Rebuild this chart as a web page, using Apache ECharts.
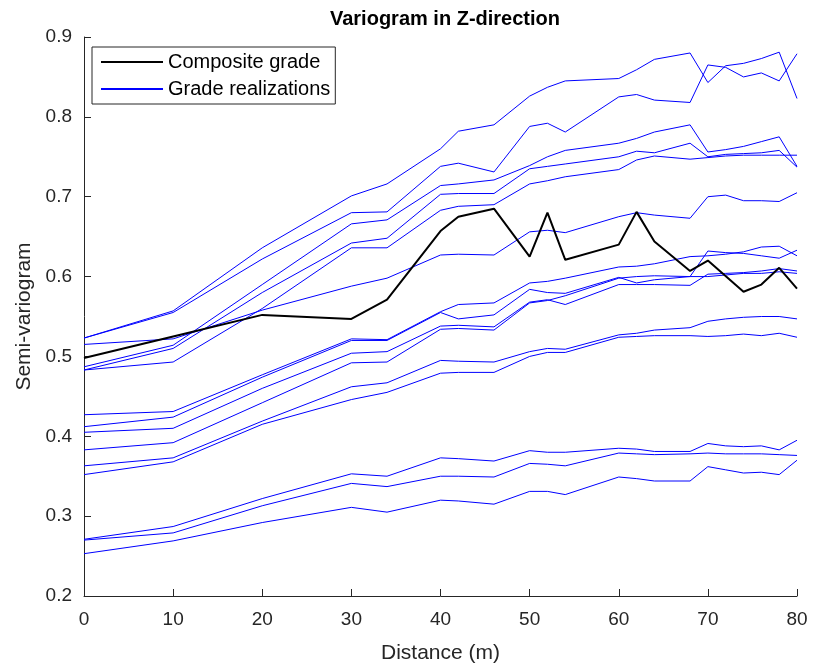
<!DOCTYPE html>
<html>
<head>
<meta charset="utf-8">
<script src="https://cdn.jsdelivr.net/npm/echarts@6/dist/echarts.min.js"></script>
<style>
html,body{margin:0;padding:0;background:#fff;}
#chart{width:814px;height:669px;}
</style>
</head>
<body>
<div id="chart"></div>
<script>
// Lag distances (m)
const lagsComposite = [0,10,20,30,34,40,42,46,50,52,54,60,62,64,68,70,74,76,78,80];
const lagsRealization = [0,10,20,30,34,40,42,46,50,52,54,60,62,64,68,70,72,74,76,78,80];

// Composite grade semi-variogram
const compositeGrade = [0.498,0.525,0.552,0.547,0.571,0.657,0.675,0.685,0.625,0.680,0.621,0.640,0.681,0.644,0.607,0.620,0.581,0.590,0.611,0.585];

// Grade realizations semi-variograms
const real1  = [0.523,0.557,0.636,0.701,0.716,0.760,0.782,0.790,0.826,0.837,0.845,0.848,0.859,0.872,0.880,0.843,0.864,0.867,0.873,0.881,0.823];
const real2  = [0.523,0.555,0.622,0.680,0.681,0.738,0.742,0.731,0.788,0.792,0.781,0.825,0.828,0.821,0.818,0.865,0.862,0.850,0.855,0.845,0.879];
const real3  = [0.487,0.514,0.590,0.666,0.671,0.714,0.716,0.721,0.739,0.750,0.758,0.767,0.773,0.781,0.790,0.756,0.759,0.763,0.769,0.775,0.738];
const real4  = [0.483,0.510,0.580,0.642,0.648,0.703,0.704,0.704,0.735,0.738,0.741,0.750,0.757,0.755,0.767,0.750,0.753,0.754,0.755,0.758,0.737];
const real5  = [0.483,0.493,0.560,0.636,0.636,0.683,0.688,0.690,0.716,0.720,0.725,0.734,0.746,0.751,0.747,0.749,0.751,0.752,0.752,0.752,0.752];
const real6  = [0.515,0.522,0.558,0.588,0.598,0.627,0.628,0.627,0.656,0.658,0.655,0.675,0.680,0.677,0.673,0.700,0.702,0.695,0.695,0.694,0.705];
const real7  = [0.427,0.431,0.477,0.522,0.521,0.556,0.565,0.567,0.592,0.594,0.598,0.612,0.613,0.616,0.625,0.626,0.628,0.631,0.637,0.638,0.626];
const real8  = [0.412,0.424,0.474,0.520,0.520,0.555,0.547,0.552,0.584,0.580,0.579,0.599,0.592,0.596,0.600,0.632,0.630,0.629,0.626,0.623,0.633];
const real9  = [0.405,0.410,0.460,0.504,0.506,0.538,0.539,0.537,0.568,0.571,0.565,0.590,0.590,0.590,0.589,0.603,0.604,0.605,0.607,0.610,0.607];
const real10 = [0.383,0.392,0.442,0.492,0.493,0.534,0.535,0.533,0.567,0.570,0.576,0.598,0.600,0.601,0.600,0.600,0.602,0.604,0.604,0.606,0.604];
const real11 = [0.363,0.373,0.419,0.462,0.467,0.495,0.494,0.493,0.506,0.510,0.509,0.527,0.529,0.533,0.536,0.544,0.547,0.549,0.550,0.550,0.547];
const real12 = [0.352,0.368,0.415,0.446,0.455,0.479,0.480,0.480,0.500,0.505,0.505,0.524,0.525,0.526,0.526,0.525,0.526,0.528,0.526,0.529,0.524];
const real13 = [0.271,0.287,0.322,0.353,0.350,0.373,0.372,0.369,0.382,0.380,0.380,0.385,0.384,0.381,0.381,0.391,0.388,0.387,0.388,0.383,0.395];
const real14 = [0.270,0.279,0.313,0.341,0.337,0.350,0.350,0.349,0.366,0.365,0.363,0.379,0.378,0.377,0.378,0.379,0.378,0.378,0.378,0.377,0.376];
const real15 = [0.253,0.269,0.292,0.311,0.305,0.320,0.319,0.315,0.331,0.331,0.327,0.349,0.347,0.344,0.344,0.362,0.358,0.354,0.355,0.352,0.370];

const realizations = [real1,real2,real3,real4,real5,real6,real7,real8,real9,real10,real11,real12,real13,real14,real15];

// Axis ticks
const xTicks = [0,10,20,30,40,50,60,70,80];
const yTicks = [0.2,0.3,0.4,0.5,0.6,0.7,0.8,0.9];

const FONT = 'Liberation Sans, Arial, Helvetica, sans-serif';
const AXIS_COLOR = '#262626';

function pairs(xs, ys){ return ys.map((v,i)=>[xs[i], v]); }

const series = [];
realizations.forEach((r)=>{
  series.push({
    name: 'Grade realizations',
    type: 'line',
    data: pairs(lagsRealization, r),
    symbol: 'none',
    lineStyle: {color: '#0000ff', width: 1},
    itemStyle: {color: '#0000ff'},
    z: 2
  });
});
series.push({
  name: 'Composite grade',
  type: 'line',
  data: pairs(lagsComposite, compositeGrade),
  symbol: 'none',
  lineStyle: {color: '#000000', width: 2},
  itemStyle: {color: '#000000'},
  z: 3
});

const chart = echarts.init(document.getElementById('chart'));
chart.setOption({
  animation: false,
  backgroundColor: '#ffffff',
  title: {
    text: 'Variogram in Z-direction',
    left: 440,
    top: 4,
    textAlign: 'center',
    textStyle: {fontFamily: FONT, fontSize: 20, fontWeight: 'bold', color: '#000'}
  },
  legend: {
    data: ['Composite grade', 'Grade realizations'],
    orient: 'vertical',
    left: 92,
    top: 47,
    itemWidth: 62,
    itemHeight: 2,
    itemGap: 7,
    padding: [5, 5, 5, 8],
    borderColor: AXIS_COLOR,
    borderWidth: 1,
    backgroundColor: '#ffffff',
    itemStyle: {opacity: 0},
    textStyle: {fontFamily: FONT, fontSize: 20, color: '#000', padding: [0, 0, 0, 0]}
  },
  grid: {left: 84, right: 17, top: 37, bottom: 72, containLabel: false},
  xAxis: {
    type: 'value',
    min: xTicks[0],
    max: xTicks[xTicks.length-1],
    interval: 10,
    name: 'Distance (m)',
    nameLocation: 'middle',
    nameGap: 47,
    nameTextStyle: {fontFamily: FONT, fontSize: 21, color: AXIS_COLOR},
    axisLine: {show: true, lineStyle: {color: AXIS_COLOR, width: 1}},
    axisTick: {show: true, inside: true, length: 7, lineStyle: {color: AXIS_COLOR}},
    axisLabel: {fontFamily: FONT, fontSize: 19, color: AXIS_COLOR, margin: 14},
    splitLine: {show: false}
  },
  yAxis: {
    type: 'value',
    min: yTicks[0],
    max: yTicks[yTicks.length-1],
    interval: 0.1,
    name: 'Semi-variogram',
    nameLocation: 'middle',
    nameGap: 46,
    nameRotate: 90,
    nameTextStyle: {fontFamily: FONT, fontSize: 21, color: AXIS_COLOR},
    axisLine: {show: true, lineStyle: {color: AXIS_COLOR, width: 1}},
    axisTick: {show: true, inside: true, length: 7, lineStyle: {color: AXIS_COLOR}},
    axisLabel: {fontFamily: FONT, fontSize: 19, color: AXIS_COLOR, margin: 12, formatter: (v)=>v.toFixed(1)},
    splitLine: {show: false}
  },
  series: series
});
</script>
</body>
</html>
